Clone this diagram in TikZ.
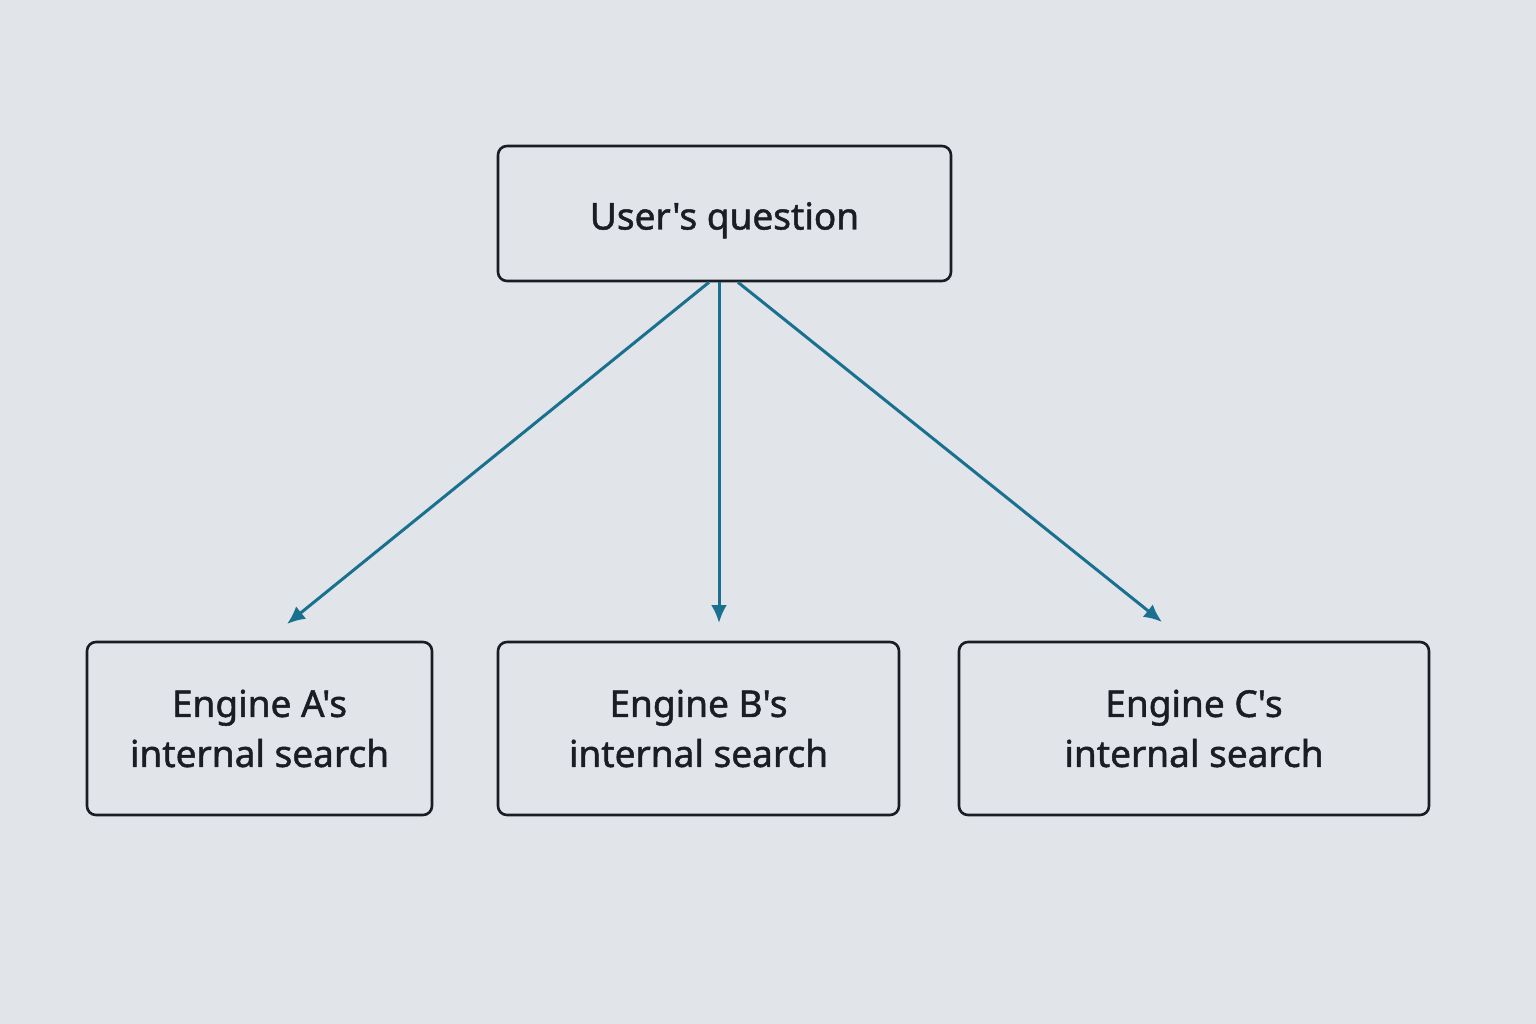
\documentclass[tikz,border=0pt]{standalone}
\usepackage{fontspec}
\setmainfont{Noto Sans}[FakeBold=1.3, Ligatures=TeXOff]
\usetikzlibrary{arrows.meta}
\definecolor{bgc}{HTML}{E1E5EA}
\definecolor{edgec}{HTML}{1A1D24}
\definecolor{arrc}{HTML}{19708F}
\definecolor{txtc}{HTML}{1A1D24}
\tikzset{
  box/.style={draw=edgec, line width=2.6pt, rounded corners=9pt, inner sep=0pt, align=center,
    text=txtc, font=\fontsize{37}{50}\selectfont\bfseries},
  conn/.style={draw=arrc, line width=3pt, -{Latex[length=18pt,width=16pt]}}
}
\begin{document}
\begin{tikzpicture}[x=1pt,y=-1pt]
\fill[bgc] (0,0) rectangle (1536,1024);
\useasboundingbox (0,0) rectangle (1536,1024);
\node[box, minimum width=453pt, minimum height=135pt] (q) at (724.5,213.5) {\raisebox{-16pt}[0pt][0pt]{User's question}};
\node[box, minimum width=345pt, minimum height=173pt] (a) at (259.5,728.5) {Engine A's\\internal search};
\node[box, minimum width=401pt, minimum height=173pt] (b) at (698.5,728.5) {Engine B's\\internal search};
\node[box, minimum width=470pt, minimum height=173pt] (c) at (1194,728.5) {Engine C's\\internal search};
\coordinate (ea) at (287,624);
\coordinate (eb) at (719,623);
\coordinate (ec) at (1162,622);
\draw[conn] (q.south -| 709,0) -- (ea);
\draw[conn] (q.south -| 719,0) -- (eb);
\draw[conn] (q.south -| 738,0) -- (ec);
\end{tikzpicture}
\end{document}
